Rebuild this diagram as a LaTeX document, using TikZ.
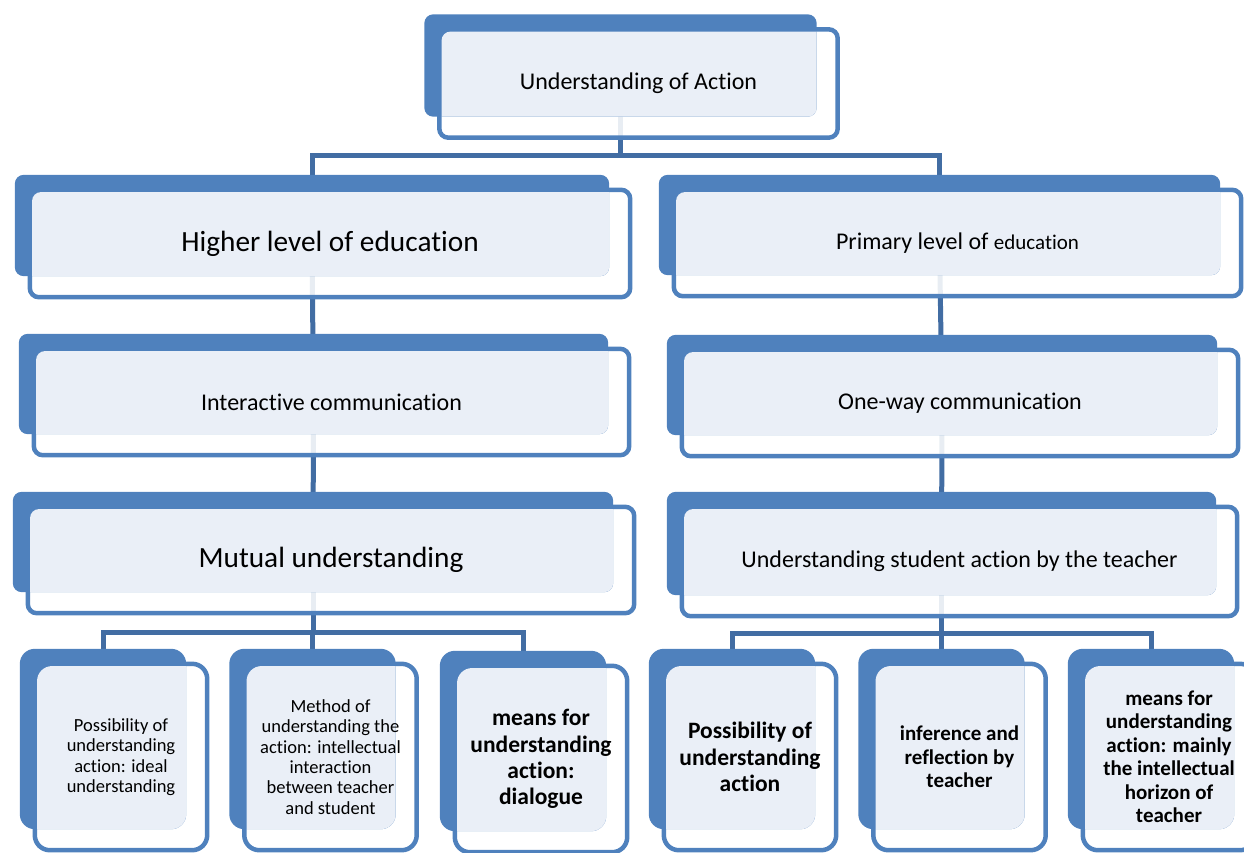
\documentclass[tikz,border=0pt]{standalone}
\usepackage{fontspec}
\setmainfont{Carlito}[Ligatures=NoCommon]
\usetikzlibrary{backgrounds}
\definecolor{tierblue}{HTML}{4F81BD}
\definecolor{tierlight}{HTML}{EAEFF7}
\definecolor{linkblue}{HTML}{426DA3}

\begin{document}
\begin{tikzpicture}[
  x=1pt,
  y=-1pt,
  tier/.style 2 args={minimum width=#1, minimum height=#2, inner sep=0pt,
    align=center, font=\fontsize{24}{29}\selectfont},
  bigtier/.style 2 args={tier={#1}{#2}, font=\fontsize{29.3}{35}\selectfont},
  leaf/.style={minimum width=172pt, minimum height=186pt, inner sep=0pt,
    align=center, font=\fontsize{18.5}{20.4}\selectfont},
  boldleaf/.style={leaf, font=\bfseries\fontsize{23.5}{26.3}\selectfont},
  smallboldleaf/.style={leaf, font=\bfseries\fontsize{21}{23.5}\selectfont},
  tierframe/.style={draw=tierblue, line width=4.5pt, fill=white, fill opacity=0.88},
  link/.style={draw=linkblue, line width=5pt}
]
  % Page frame, some boxes run over the right and lower edge.
  \useasboundingbox (0,0) rectangle (1244,852);

  % Root
  \node[tier={398pt}{108pt}] (top) at (638.5,83.5) {Understanding of Action};

  % Left branch
  \node[bigtier={600pt}{107pt}] (hl) at (330,243.5) {Higher level of education};
  \node[tier={595pt}{106pt}] (cl) at (331.5,402) {Interactive communication};
  \node[bigtier={606pt}{106pt}] (ml) at (331,560) {Mutual understanding};

  % Right branch
  \node[tier={567pt}{106pt}] (hr) at (957.5,243)
    {Primary level of {\fontsize{21}{25}\selectfont education}};
  \node[tier={556pt}{106pt}] (cr) at (960,403) {One-way communication};
  \node[tier={555pt}{109pt}] (mr) at (959.5,561.5)
    {Understanding student action by the teacher};

  % Leaves
  \node[leaf] (l1) at (121,757)
    {Possibility of\\understanding\\action: ideal\\understanding};
  \node[leaf] (l2) at (330.5,757)
    {Method of\\understanding the\\action: intellectual\\interaction\\between teacher\\and student};
  \node[boldleaf] (l3) at (541,759)
    {means for\\understanding\\action:\\dialogue};
  \node[boldleaf] (r1) at (750,757)
    {Possibility of\\understanding\\action};
  \node[smallboldleaf] (r2) at (959.5,757)
    {inference and\\reflection by\\teacher};
  \node[smallboldleaf] (r3) at (1169,757)
    {means for\\understanding\\action: mainly\\the intellectual\\horizon of\\teacher};

  \begin{scope}[on background layer]
    \clip (0,0) rectangle (1244,852);

    % Connectors run under the boxes
    \draw[link] ([xshift=-18pt]top.center) -- ++(0,72) -| ([xshift=-18pt]hl.center);
    \draw[link] ([xshift=-18pt]top.center) -- ++(0,72) -| ([xshift=-18pt]hr.center);
    \draw[link] ([xshift=-18pt]hl.center) -- ([xshift=-18pt]cl.center);
    \draw[link] ([xshift=-18pt]cl.center) -- ([xshift=-18pt]ml.center);
    \draw[link] ([xshift=-18pt]hr.center) -- ([xshift=-18pt]cr.center);
    \draw[link] ([xshift=-18pt]cr.center) -- ([xshift=-18pt]mr.center);
    \foreach \t in {l1,l2,l3}
      \draw[link] ([xshift=-18pt]ml.center) -- ++(0,72) -| ([xshift=-18pt]\t.center);
    \foreach \t in {r1,r2,r3}
      \draw[link] ([xshift=-18pt]mr.center) -- ++(0,72) -| ([xshift=-18pt]\t.center);

    % Each box: white outline, solid block behind, pale face where they overlap
    \foreach \n/\r in {top/9,hl/9,hr/9,cl/9,cr/9,ml/9,mr/9,
                       l1/15,l2/15,l3/15,r1/15,r2/15,r3/15} {
      \path[tierframe, rounded corners=\r pt] (\n.north west) rectangle (\n.south east);
      \fill[tierblue, rounded corners=\r pt]
        ([shift={(-15,-15)}]\n.north west) rectangle ([shift={(-21,-21)}]\n.south east);
      \begin{scope}
        \clip[rounded corners=\r pt]
          ([shift={(2.25,2.25)}]\n.north west) rectangle ([shift={(-2.25,-2.25)}]\n.south east);
        \fill[tierlight, rounded corners=\r pt]
          ([shift={(-15,-15)}]\n.north west) rectangle ([shift={(-21,-21)}]\n.south east);
      \end{scope}
    }
  \end{scope}
\end{tikzpicture}
\end{document}
